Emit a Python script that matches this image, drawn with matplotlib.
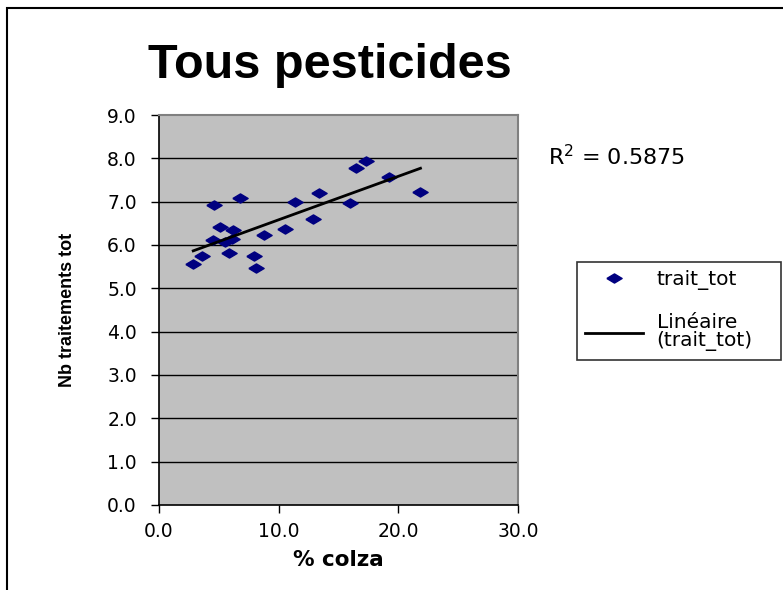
import matplotlib
matplotlib.use("Agg")
import matplotlib.pyplot as plt
import numpy as np
from matplotlib.lines import Line2D

plt.rcParams['font.family'] = ['DejaVu Sans']

colza = [2.86, 3.56, 4.62, 5.10, 4.49, 5.52, 6.11, 6.17, 5.88, 6.78, 7.90,
         8.07, 8.77, 10.5, 11.4, 12.9, 13.4, 15.97, 16.45, 17.26, 19.2, 21.85]
trait_tot = [5.57, 5.74, 6.92, 6.41, 6.11, 6.07, 6.13, 6.34, 5.81, 7.09, 5.74,
             5.47, 6.24, 6.38, 6.99, 6.61, 7.19, 6.96, 7.77, 7.94, 7.56, 7.23]
r2_text = "R$^2$ = 0.5875"
yticks = [0, 1, 2, 3, 4, 5, 6, 7, 8, 9]
xticks = [0, 10, 20, 30]

W, H = 783, 590
fig = plt.figure(figsize=(W / 100, H / 100), dpi=100)

# outer frame
fig.add_artist(plt.Rectangle((7 / W, -0.01), 1.0, 1 - 8 / H + 0.01,
                             transform=fig.transFigure, fill=False,
                             edgecolor='black', linewidth=1.5))

ax = fig.add_axes([159 / W, 1 - 505 / H, 359 / W, 390 / H])
ax.set_facecolor('#C0C0C0')
ax.set_xlim(0, 30)
ax.set_ylim(0, 9)
ax.set_yticks(yticks)
ax.set_yticklabels([f"{v:.1f}" for v in yticks])
ax.set_xticks(xticks)
ax.set_xticklabels([f"{v:.1f}" for v in xticks])
ax.tick_params(axis='both', direction='out', length=6, width=1, labelsize=13.5,
               color='black')
ax.tick_params(axis='y', pad=10)
ax.tick_params(axis='x', pad=6)
for y in yticks[1:-1]:
    ax.axhline(y, color='black', linewidth=1.0, zorder=1)
for side in ['top', 'right']:
    ax.spines[side].set_color('#808080')
    ax.spines[side].set_linewidth(1.5)
for side in ['left', 'bottom']:
    ax.spines[side].set_color('black')
    ax.spines[side].set_linewidth(1.2)

diamond = [(-1, 0), (0, 0.6), (1, 0), (0, -0.6), (-1, 0)]
x = np.array(colza)
y = np.array(trait_tot)
ax.plot(x, y, linestyle='none', marker=diamond, markersize=11,
        color='#000080', markeredgecolor='#000080', zorder=3)

a, b = np.polyfit(x, y, 1)
xx = np.array([x.min(), x.max()])
ax.plot(xx, a * xx + b, color='black', linewidth=2, zorder=4)

ax.set_xlabel('% colza', fontsize=15.5, fontweight='bold')
ax.xaxis.set_label_coords(0.5, -(560 - 505) / 390)
ax.xaxis.label.set_va('center')
ax.set_ylabel('Nb traitements tot', fontsize=13, fontweight='bold',
              family=['Liberation Sans'])
ax.yaxis.set_label_coords(-(159 - 68) / 359, 0.5)
ax.yaxis.label.set_va('center')

fig.text(330 / W, 1 - 78 / H, 'Tous pesticides', fontsize=35,
         fontweight='bold', ha='center', va='baseline',
         family=['Liberation Sans'])
fig.text(548 / W, 1 - 157 / H, r2_text, fontsize=16, ha='left', va='center')

# legend
handles = [Line2D([], [], linestyle='none', marker=diamond, markersize=11,
                  color='#000080'),
           Line2D([], [], color='black', linewidth=2)]
leg = fig.legend(handles, ['trait_tot', 'Linéaire\n(trait_tot)'],
                 loc='upper left',
                 bbox_to_anchor=(577 / W, 1 - 358 / H, 204 / W, 96 / H),
                 mode='expand', borderaxespad=0,
                 frameon=True, fancybox=False, edgecolor='black',
                 fontsize=14.5, handlelength=2.9, labelspacing=1.15,
                 borderpad=0.4, handletextpad=0.65)
leg.get_texts()[1].set_linespacing(0.95)
leg.get_frame().set_linewidth(1.2)

fig.savefig('out.png', dpi=100)
